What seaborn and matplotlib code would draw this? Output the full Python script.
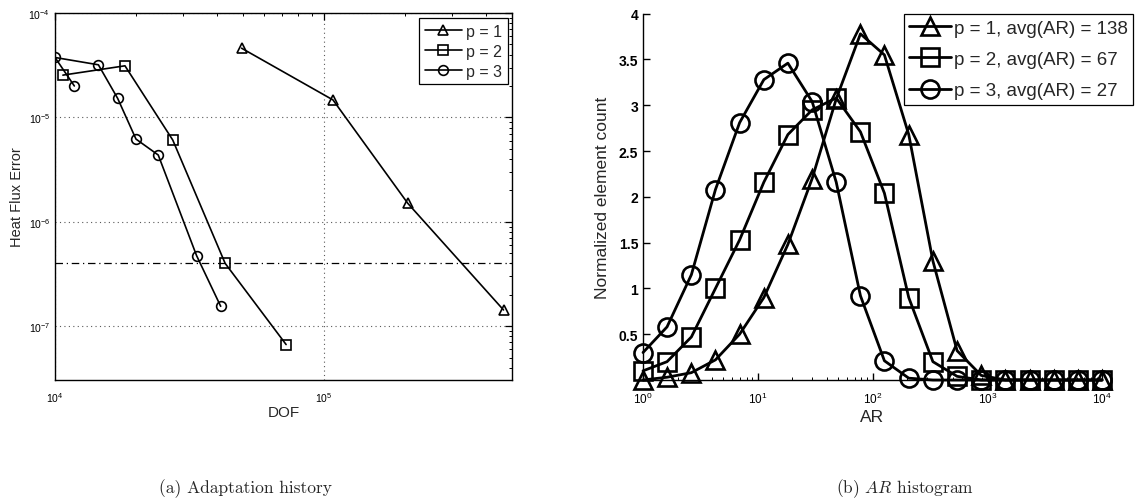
import numpy as np
import pandas as pd
import matplotlib
matplotlib.use("Agg")
import matplotlib.pyplot as plt
import seaborn as sns
from matplotlib.ticker import LogLocator, NullFormatter

# ---------------- data: (a) adaptation history ----------------
dof_p1 = [4.94e4, 1.08e5, 2.05e5, 4.65e5]
err_p1 = [4.6e-5, 1.47e-5, 1.5e-6, 1.43e-7]
dof_p2 = [1.07e4, 1.82e4, 2.74e4, 4.29e4, 7.23e4]
err_p2 = [2.54e-5, 3.12e-5, 6.07e-6, 4.0e-7, 6.67e-8]
dof_p3 = [1.18e4, 1.0e4, 1.45e4, 1.71e4, 2.0e4, 2.42e4, 3.36e4, 4.13e4]
err_p3 = [2.0e-5, 3.75e-5, 3.19e-5, 1.52e-5, 6.2e-6, 4.36e-6, 4.74e-7, 1.55e-7]
target_err = 4.0e-7
labels_a = ["p = 1", "p = 2", "p = 3"]

# ---------------- data: (b) AR histogram ----------------
ar_bins = [1, 1.62, 2.64, 4.28, 6.95, 11.3, 18.3, 29.8, 48.3, 78.5,
           127, 207, 336, 546, 886, 1438, 2336, 3793, 6158, 10000]
count_p1 = [0.0, 0.03, 0.08, 0.22, 0.5, 0.9, 1.48, 2.2, 3.07, 3.78,
            3.55, 2.68, 1.3, 0.32, 0.05, 0, 0, 0, 0, 0]
count_p2 = [0.1, 0.2, 0.47, 1.0, 1.53, 2.16, 2.68, 2.95, 3.08, 2.71,
            2.04, 0.9, 0.2, 0.04, 0, 0, 0, 0, 0, 0]
count_p3 = [0.3, 0.58, 1.15, 2.08, 2.81, 3.28, 3.46, 3.04, 2.16, 0.92,
            0.21, 0.02, 0, 0, 0, 0, 0, 0, 0, 0]
labels_b = ["p = 1, avg(AR) = 138", "p = 2, avg(AR) = 67", "p = 3, avg(AR) = 27"]
ytick_b = [0.5, 1, 1.5, 2, 2.5, 3, 3.5, 4]
ytick_b_labels = ["0.5", "1", "1.5", "2", "2.5", "3", "3.5", "4"]

markers = ["^", "s", "o"]

sns.set_theme(style="white")
plt.rcParams["font.family"] = ["Liberation Sans", "DejaVu Sans"]
plt.rcParams["mathtext.fontset"] = "custom"
plt.rcParams["mathtext.rm"] = "Liberation Sans"
plt.rcParams["mathtext.it"] = "Liberation Sans:italic"
plt.rcParams["mathtext.bf"] = "Liberation Sans:bold"
plt.rcParams["axes.edgecolor"] = "black"
plt.rcParams["axes.linewidth"] = 1.0

fig = plt.figure(figsize=(11.42, 5.02), dpi=100)
W, H = 1142.0, 502.0
ax1 = fig.add_axes([55 / W, 1 - 381 / H, (512 - 55) / W, (381 - 14) / H])
ax2 = fig.add_axes([643 / W, 1 - 381 / H, (1102 - 643) / W, (381 - 14.7) / H])

# ---------------- panel (a) ----------------
series_a = [(dof_p1, err_p1), (dof_p2, err_p2), (dof_p3, err_p3)]
for (xs, ys), m, lab in zip(series_a, markers, labels_a):
    df = pd.DataFrame({"DOF": xs, "err": ys})
    sns.lineplot(data=df, x="DOF", y="err", ax=ax1, sort=False, estimator=None,
                 color="black", lw=1.2, marker=m, markersize=7,
                 mfc="none", mec="black", mew=1.2, label=lab)
ax1.axhline(target_err, color="black", lw=0.9, ls=(0, (6, 3, 1, 3)))
ax1.set_xscale("log")
ax1.set_yscale("log")
ax1.set_xlim(1e4, 5.0e5)
ax1.set_ylim(3.05e-8, 1e-4)
ax1.xaxis.set_major_locator(LogLocator(base=10, numticks=10))
ax1.yaxis.set_major_locator(LogLocator(base=10, numticks=10))
ax1.xaxis.set_minor_locator(LogLocator(base=10, subs=np.arange(2, 10), numticks=20))
ax1.yaxis.set_minor_locator(LogLocator(base=10, subs=np.arange(2, 10), numticks=20))
ax1.xaxis.set_minor_formatter(NullFormatter())
ax1.yaxis.set_minor_formatter(NullFormatter())
ax1.grid(True, which="major", ls=(0, (1, 3)), color="0.35", lw=0.8)
ax1.grid(False, which="minor")
ax1.tick_params(which="both", direction="in", top=True, right=True,
                colors="black", labelsize=7.5)
ax1.tick_params(which="major", length=5, width=0.9)
ax1.tick_params(which="minor", length=2.5, width=0.7)
ax1.tick_params(axis="x", pad=7)
for sp in ax1.spines.values():
    sp.set_visible(True)
    sp.set_color("black")
ax1.set_xlabel("DOF", fontsize=11, labelpad=1)
ax1.set_ylabel("Heat Flux Error", fontsize=10.5, labelpad=3)
leg1 = ax1.legend(loc="upper right", bbox_to_anchor=(508 / W, 1 - 19 / H),
                  bbox_transform=fig.transFigure, borderaxespad=0,
                  fontsize=11.5, handlelength=2.3, handletextpad=0.3,
                  labelspacing=0.32, borderpad=0.35, fancybox=False,
                  framealpha=1, edgecolor="black")
leg1.get_frame().set_linewidth(0.9)

# ---------------- panel (b) ----------------
series_b = [count_p1, count_p2, count_p3]
for ys, m, lab in zip(series_b, markers, labels_b):
    df = pd.DataFrame({"AR": ar_bins, "count": ys})
    sns.lineplot(data=df, x="AR", y="count", ax=ax2, sort=False, estimator=None,
                 color="black", lw=2.0, marker=m, markersize=13,
                 mfc="none", mec="black", mew=1.9, label=lab, clip_on=False)
ax2.set_xscale("log")
ax2.set_xlim(1, 1e4)
ax2.set_ylim(0, 4)
ax2.set_yticks(ytick_b)
ax2.set_yticklabels(ytick_b_labels, fontweight="bold")
ax2.xaxis.set_major_locator(LogLocator(base=10, numticks=10))
ax2.xaxis.set_minor_locator(LogLocator(base=10, subs=np.arange(2, 10), numticks=20))
ax2.xaxis.set_minor_formatter(NullFormatter())
ax2.grid(False)
for side in ["top", "right"]:
    ax2.spines[side].set_visible(False)
for side in ["left", "bottom"]:
    ax2.spines[side].set_color("black")
ax2.tick_params(which="both", direction="in", colors="black", bottom=True, left=True)
ax2.tick_params(which="major", length=5, width=1.0)
ax2.tick_params(which="minor", length=2.5, width=0.7)
ax2.tick_params(axis="y", labelsize=10)
ax2.tick_params(axis="x", labelsize=8.5, pad=8)
ax2.set_xlabel("AR", fontsize=12.5, labelpad=2)
ax2.set_ylabel("Normalized element count", fontsize=12.5, labelpad=6)
leg2 = ax2.legend(loc="upper right", bbox_to_anchor=(1133 / W, 1 - 15 / H),
                  bbox_transform=fig.transFigure, borderaxespad=0,
                  fontsize=13.5, handlelength=2.2, handletextpad=0.15,
                  labelspacing=0.75, borderpad=0.3, fancybox=False,
                  framealpha=1, edgecolor="black")
leg2.get_frame().set_linewidth(0.9)

# ---------------- captions ----------------
fig.text(245 / W, 1 - 489 / H, "(a) Adaptation history", ha="center", va="center",
         fontsize=12.5, family="cmr10", math_fontfamily="cm")
fig.text(905 / W, 1 - 489 / H, r"(b) $AR$ histogram", ha="center", va="center",
         fontsize=12.5, family="cmr10", math_fontfamily="cm")

fig.savefig("out.png", dpi=100, facecolor="white")
